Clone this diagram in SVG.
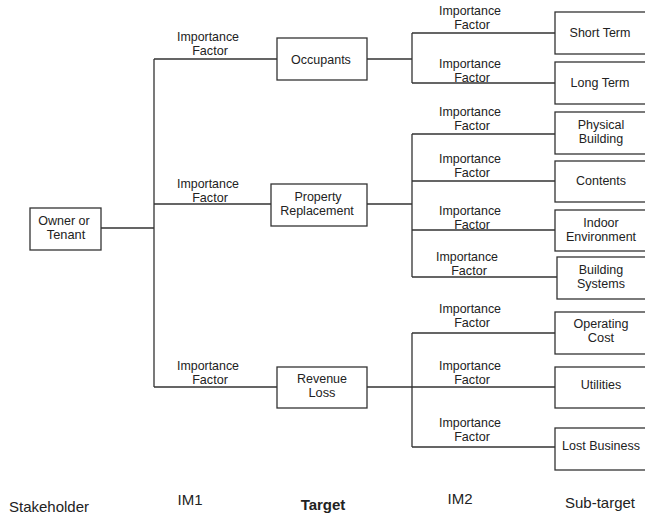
<svg xmlns="http://www.w3.org/2000/svg" width="645" height="516" viewBox="0 0 645 516">
<style>
.box{fill:#fff;stroke:#333;stroke-width:1.3}
.ln{fill:none;stroke:#333;stroke-width:1.3}
text{font-family:"Liberation Sans",Arial,sans-serif;fill:#222;text-anchor:middle}
.n{font-size:12.5px}
.n2{font-size:12.8px}
.f1{font-size:12.4px}
.f2{font-size:12.6px}
.cap{font-size:15px}
</style>
<rect width="645" height="516" fill="#fff"/>
<g id="connectors">
<path class="ln" d="M101,228H154M154,59V387M154,59H277M154,204H271M154,387H277"/>
<path class="ln" d="M367,59H412M412,33V83M412,33H555M412,83H555"/>
<path class="ln" d="M367,204H412M412,134V277M412,134H555M412,181H555M412,230H555M412,277H557"/>
<path class="ln" d="M367,387H555M412,333V447M412,333H555M412,447H555"/>
</g>
<g id="labels-im1">
<text class="f1" x="208" y="41">Importance</text><text class="f2" x="210" y="55">Factor</text>
<text class="f1" x="208" y="188">Importance</text><text class="f2" x="210" y="202">Factor</text>
<text class="f1" x="208" y="370">Importance</text><text class="f2" x="210" y="384">Factor</text>
</g>
<g id="labels-im2">
<text class="f1" x="470" y="15">Importance</text><text class="f2" x="472" y="29">Factor</text>
<text class="f1" x="470" y="68">Importance</text><text class="f2" x="472" y="82">Factor</text>
<text class="f1" x="470" y="116">Importance</text><text class="f2" x="472" y="130">Factor</text>
<text class="f1" x="470" y="163">Importance</text><text class="f2" x="472" y="177">Factor</text>
<text class="f1" x="470" y="215">Importance</text><text class="f2" x="472" y="229">Factor</text>
<text class="f1" x="467" y="261">Importance</text><text class="f2" x="469" y="275">Factor</text>
<text class="f1" x="470" y="313">Importance</text><text class="f2" x="472" y="327">Factor</text>
<text class="f1" x="470" y="370">Importance</text><text class="f2" x="472" y="384">Factor</text>
<text class="f1" x="470" y="427">Importance</text><text class="f2" x="472" y="441">Factor</text>
</g>
<g id="owner"><rect class="box" x="30" y="208" width="71" height="42"/><text class="n" x="64" y="225">Owner or</text><text class="n2" x="66" y="239">Tenant</text></g>
<g id="occupants"><rect class="box" x="277" y="38" width="90" height="42"/><text class="n" x="321" y="64">Occupants</text></g>
<g id="property"><rect class="box" x="271" y="184" width="96" height="42"/><text class="n" x="318" y="201">Property</text><text class="n" x="317" y="215">Replacement</text></g>
<g id="revenue"><rect class="box" x="277" y="367" width="90" height="41"/><text class="n" x="322" y="383">Revenue</text><text class="n2" x="322" y="397">Loss</text></g>
<g id="short"><rect class="box" x="555" y="12" width="100" height="42"/><text class="n" x="600" y="37">Short Term</text></g>
<g id="long"><rect class="box" x="555" y="62" width="100" height="42"/><text class="n" x="600" y="87">Long Term</text></g>
<g id="physical"><rect class="box" x="555" y="112" width="100" height="42"/><text class="n" x="601" y="129">Physical</text><text class="n" x="601" y="143">Building</text></g>
<g id="contents"><rect class="box" x="555" y="161" width="100" height="41"/><text class="n" x="601" y="185">Contents</text></g>
<g id="indoor"><rect class="box" x="555" y="210" width="100" height="41"/><text class="n" x="601" y="227">Indoor</text><text class="n" x="601" y="241">Environment</text></g>
<g id="systems"><rect class="box" x="557" y="257" width="100" height="42"/><text class="n" x="601" y="274">Building</text><text class="n" x="601" y="288">Systems</text></g>
<g id="operating"><rect class="box" x="555" y="312" width="100" height="42"/><text class="n" x="601" y="328">Operating</text><text class="n2" x="601" y="342">Cost</text></g>
<g id="utilities"><rect class="box" x="555" y="367" width="100" height="41"/><text class="n" x="601" y="389">Utilities</text></g>
<g id="lost"><rect class="box" x="555" y="428" width="100" height="42"/><text class="n" x="601" y="450">Lost Business</text></g>
<g id="captions">
<text class="cap" x="49" y="512">Stakeholder</text>
<text class="cap" x="190" y="505">IM1</text>
<text class="cap" x="323" y="510" font-weight="bold">Target</text>
<text class="cap" x="460" y="504">IM2</text>
<text class="cap" x="600" y="508">Sub-target</text>
</g>
</svg>
